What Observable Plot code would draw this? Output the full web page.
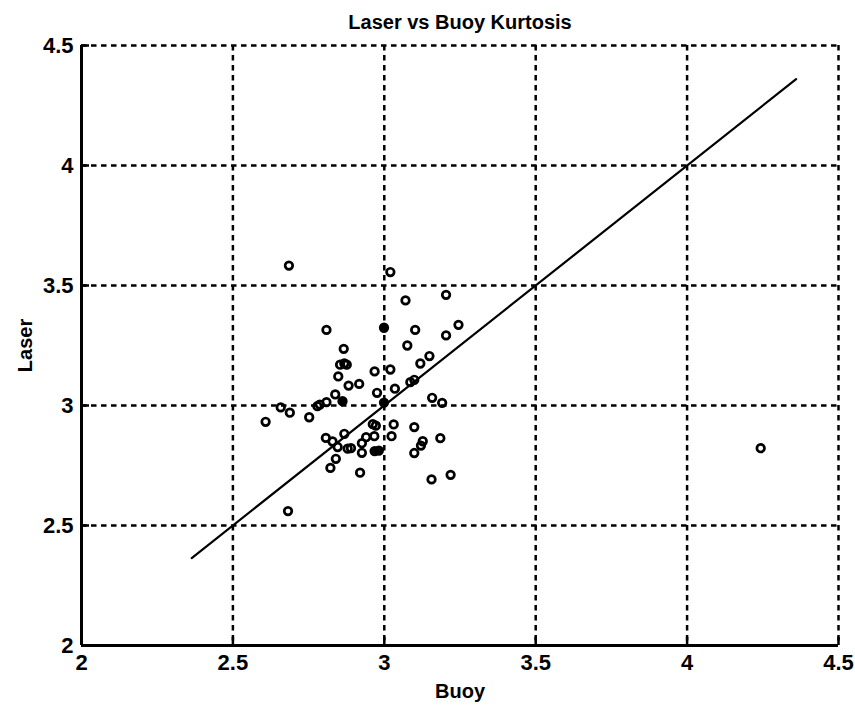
<!DOCTYPE html>
<html><head><meta charset="utf-8">
<script src="https://cdn.jsdelivr.net/npm/d3@7"></script>
<script src="https://cdn.jsdelivr.net/npm/@observablehq/plot@0.6"></script>
<style>body{margin:0;background:#fff}</style>
</head><body><div id="chart"></div>
<script>
const title = "Laser vs Buoy Kurtosis";
const xLabel = "Buoy";
const yLabel = "Laser";
const xTicks = [2, 2.5, 3, 3.5, 4, 4.5];
const yTicks = [2, 2.5, 3, 3.5, 4, 4.5];
const buoy = [
  2.685, 3.020, 3.070, 3.204, 2.809, 3.102, 3.245, 3.204,
  2.866, 3.076, 3.149, 3.119, 2.854, 2.868, 2.876, 2.968, 3.020, 2.848,
  2.882, 2.917, 3.035, 3.086, 3.099, 2.976, 2.838, 3.158, 3.191,
  2.809, 2.787, 2.779, 2.658, 2.688, 2.752,
  2.608, 2.962, 2.972, 3.031, 3.099, 2.868, 2.807, 2.829, 2.940, 2.967,
  3.024, 3.127, 3.121, 3.185, 2.846, 2.879, 2.890, 2.926, 2.926,
  3.099, 2.840, 2.822, 2.920, 3.156, 3.219, 2.682, 4.243
];
const laser = [
  3.583, 3.556, 3.438, 3.461, 3.315, 3.315, 3.336, 3.292,
  3.236, 3.250, 3.206, 3.175, 3.170, 3.175, 3.170, 3.142, 3.150, 3.121,
  3.083, 3.090, 3.070, 3.097, 3.107, 3.053, 3.046, 3.032, 3.011,
  3.014, 3.004, 2.997, 2.992, 2.970, 2.951,
  2.932, 2.922, 2.916, 2.921, 2.910, 2.882, 2.865, 2.850, 2.868, 2.872,
  2.872, 2.851, 2.833, 2.864, 2.827, 2.820, 2.822, 2.843, 2.803,
  2.802, 2.778, 2.740, 2.720, 2.692, 2.711, 2.560, 2.822
];
// overlapping points that print as solid blobs
const blobBuoy = [2.999, 2.999, 2.862, 2.968, 2.982];
const blobLaser = [3.324, 3.012, 3.018, 2.810, 2.812];
const fitBuoy = [2.364, 4.36];
const fitLaser = [2.364, 4.36];

const pts = buoy.map((b, i) => ({buoy: b, laser: laser[i]}));
const blobs = blobBuoy.map((b, i) => ({buoy: b, laser: blobLaser[i]}));
const fit = fitBuoy.map((b, i) => ({buoy: b, laser: fitLaser[i]}));
const font = '"Liberation Sans",Arial,sans-serif';
const grid = {stroke: "black", strokeOpacity: 1, strokeWidth: 2.5, strokeDasharray: "5.5,4.5"};

const plot = Plot.plot({
  width: 855, height: 706,
  marginLeft: 81, marginRight: 17, marginTop: 45, marginBottom: 61,
  style: {fontFamily: font, fontWeight: "bold", fontSize: "22px", color: "black", background: "white", overflow: "visible"},
  x: {domain: [2, 4.5]},
  y: {domain: [2, 4.5]},
  marks: [
    Plot.gridX(xTicks, grid),
    Plot.gridY(yTicks, grid),
    Plot.ruleX([2], {stroke: "black", strokeWidth: 3}),
    Plot.ruleY([2], {stroke: "black", strokeWidth: 3}),
    Plot.axisX(xTicks, {tickSize: -8, tickPadding: 17, strokeWidth: 2.5, label: null, fontSize: 22, tickFormat: d => String(d)}),
    Plot.axisY(yTicks, {tickSize: -8, tickPadding: 16, strokeWidth: 2.5, label: null, fontSize: 22, tickFormat: d => String(d)}),
    Plot.line(fit, {x: "buoy", y: "laser", stroke: "black", strokeWidth: 2.2}),
    Plot.dot(pts, {x: "buoy", y: "laser", r: 3.8, stroke: "black", strokeWidth: 2.7, fill: "none"}),
    Plot.dot(blobs, {x: "buoy", y: "laser", r: 3.8, stroke: "black", strokeWidth: 2.7, fill: "black"}),
    Plot.text([title], {frameAnchor: "top", dy: -31, fontSize: 20, fontWeight: "bold"}),
    Plot.text([xLabel], {frameAnchor: "bottom", dy: 52, fontSize: 20, fontWeight: "bold"}),
    Plot.text([yLabel], {frameAnchor: "left", dx: -56, rotate: -90, textAnchor: "middle", fontSize: 20, fontWeight: "bold"})
  ]
});
document.getElementById("chart").appendChild(plot);
</script>
</body></html>
